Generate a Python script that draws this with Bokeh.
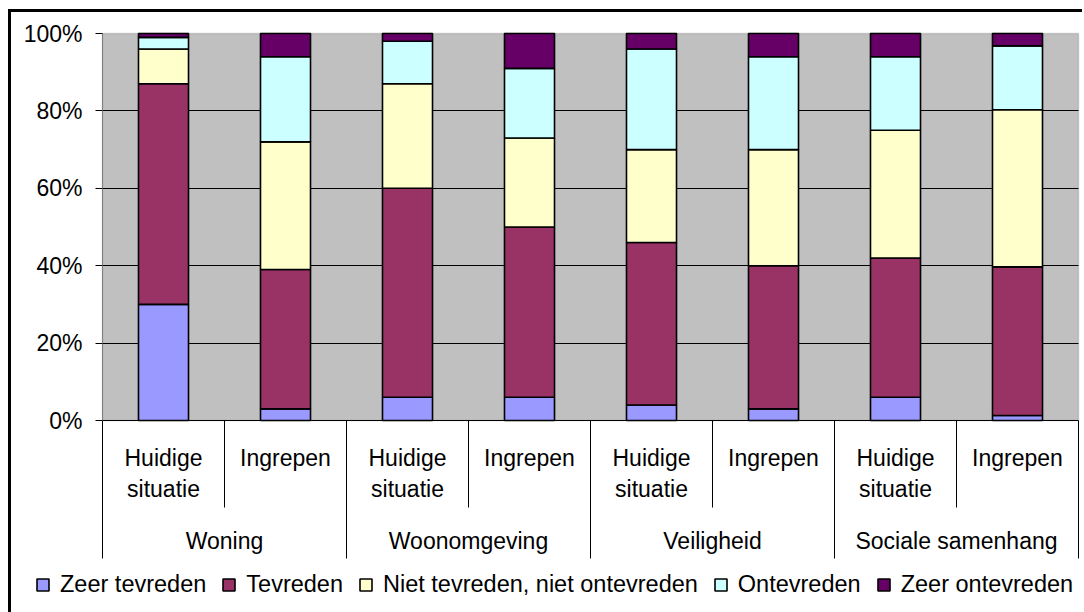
from bokeh.plotting import figure
from bokeh.models import (ColumnDataSource, Range1d, FixedTicker,
                          PrintfTickFormatter, BoxAnnotation)
from bokeh.layouts import column
from bokeh.core.properties import value
from bokeh.embed import file_html
from bokeh.resources import INLINE

# ---------------- data ----------------
groups = ["Woning", "Woonomgeving", "Veiligheid", "Sociale samenhang"]
subgroups = ["Huidige situatie", "Ingrepen"]
series = ["Zeer tevreden", "Tevreden", "Niet tevreden, niet ontevreden",
          "Ontevreden", "Zeer ontevreden"]
colors = ["#9999FF", "#993366", "#FFFFCC", "#CCFFFF", "#660066"]

zeer_tevreden = [30, 3, 6, 6, 4, 3, 6, 1.3]
tevreden = [57, 36, 54, 44, 42, 37, 36, 38.4]
niet_tevreden_niet_ontevreden = [9, 33, 27, 23, 24, 30, 33, 40.6]
ontevreden = [3, 22, 11, 18, 26, 24, 19, 16.5]
zeer_ontevreden = [1, 6, 2, 9, 4, 6, 6, 3.2]

y_ticks = [0, 20, 40, 60, 80, 100]
grid_ticks = [0, 20, 40, 60, 80]

# ---------------- layout constants (pixels) ----------------
FONT = "Liberation Sans"
FS = "23px"
FS_LEGEND = "23.5px"
W, H = 1071, 600
PLOT_L, PLOT_R = 91, 1067          # plot area left/right inside canvas
ZERO_Y, TOP_Y = 408, 21            # canvas y of 0% and 100%
PX_PER_PCT = (ZERO_Y - TOP_Y) / 100

factors = [(g, s) for g in groups for s in subgroups]
n = len(factors)
px_per_slot = (PLOT_R - PLOT_L) / n
x_start = -PLOT_L / px_per_slot
x_end = n + (W - PLOT_R) / px_per_slot
y_end = 100 + TOP_Y / PX_PER_PCT
y_start = -(H - ZERO_Y) / PX_PER_PCT


def below(px):
    """data-y for a point px pixels below the 0% line"""
    return -px / PX_PER_PCT


xs = [i + 0.5 for i in range(n)]
data = {"x": xs}
for name, vals in zip(series, [zeer_tevreden, tevreden, niet_tevreden_niet_ontevreden,
                               ontevreden, zeer_ontevreden]):
    data[name] = vals
source = ColumnDataSource(data)

p = figure(x_range=Range1d(x_start, x_end), y_range=Range1d(y_start, y_end),
           width=W, height=H, output_backend="svg", toolbar_location=None,
           x_axis_location=None,
           min_border_left=0, min_border_right=0, min_border_top=0, min_border_bottom=0,
           background_fill_color="white", border_fill_color="white",
           outline_line_color=None)

# plot area (grey)
p.add_layout(BoxAnnotation(left=0, right=n, bottom=0, top=100, fill_color="#C0C0C0",
                           fill_alpha=1, line_color="#808080", line_width=1.5, level="image"))

p.xgrid.visible = False
p.ygrid.ticker = FixedTicker(ticks=grid_ticks)
p.ygrid.grid_line_color = "black"
p.ygrid.grid_line_width = 1
p.ygrid.bounds = (0, 100)
p.ygrid.cross_bounds = (0, n)

ax = p.yaxis[0]
ax.fixed_location = 0
ax.ticker = FixedTicker(ticks=y_ticks)
ax.formatter = PrintfTickFormatter(format="%d%%")
ax.bounds = (0, 100)
ax.axis_line_color = "#808080"
ax.major_tick_line_color = "black"
ax.major_tick_out = 7
ax.major_tick_in = 0
ax.minor_tick_line_color = None
ax.major_label_text_font = FONT
ax.major_label_text_font_size = FS
ax.major_label_text_color = "black"
ax.major_label_standoff = 13

p.vbar_stack(series, x="x", width=0.41, color=colors, line_color="black",
             line_width=1.6, source=source, legend_label=series)

# ---------------- two-level category axis ----------------
inner_sep = [2 * gi + 1 for gi in range(len(groups))]
group_sep = [2 * gi for gi in range(len(groups) + 1)]
p.segment(x0=inner_sep, y0=[0] * len(inner_sep), x1=inner_sep,
          y1=[below(87)] * len(inner_sep), line_color="black", line_width=1)
p.segment(x0=group_sep, y0=[0] * len(group_sep), x1=group_sep,
          y1=[below(138)] * len(group_sep), line_color="black", line_width=1)

l1_x, l1_t, l2_x, l2_t = [], [], [], []
for x, f in zip(xs, factors):
    words = f[1].split(" ", 1)
    l1_x.append(x)
    l1_t.append(words[0])
    if len(words) > 1:
        l2_x.append(x)
        l2_t.append(words[1])
gx = [2 * gi + 1 for gi in range(len(groups))]

txt = dict(text_font=value(FONT), text_font_size=FS, text_color="black",
           text_align="center", text_baseline="middle")
p.text(x=l1_x, y=[below(37)] * len(l1_x), text=l1_t, **txt)
p.text(x=l2_x, y=[below(68)] * len(l2_x), text=l2_t, **txt)
p.text(x=gx, y=[below(120)] * len(gx), text=groups, **txt)

# ---------------- legend ----------------
lg = p.legend[0]
lg.orientation = "horizontal"
lg.location = (24, 14)
lg.padding = 0
lg.margin = 0
lg.spacing = 15
lg.glyph_width = 15
lg.glyph_height = 15
lg.label_standoff = 10
lg.label_text_font = FONT
lg.label_text_font_size = FS_LEGEND
lg.label_text_color = "black"
lg.border_line_color = None
lg.background_fill_alpha = 0

layout = column(p, margin=(9, 0, 0, 8),
                styles={"border-left": "3px solid black", "border-top": "3px solid black"})

open("out.html", "w").write(file_html(layout, INLINE))
